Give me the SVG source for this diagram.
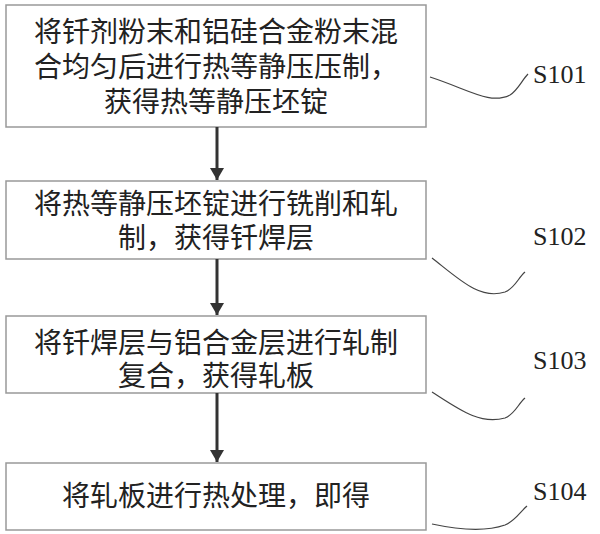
<svg xmlns="http://www.w3.org/2000/svg" width="600" height="534" viewBox="0 0 600 534">
<defs><marker id="ah" markerWidth="12" markerHeight="14" refX="12" refY="7" orient="auto" markerUnits="userSpaceOnUse"><path d="M0,0 L12,7 L0,14 z" fill="#333"/></marker></defs>
<style>
rect{fill:#fff;stroke:#999;stroke-width:1.5}
.t{font-family:"Liberation Serif","Noto Sans CJK SC",serif;font-size:28px;fill:#222;text-anchor:middle}
.s{font-family:"Liberation Serif",serif;font-size:26px;fill:#222}
.c{fill:none;stroke:#444;stroke-width:1.2}
.a{stroke:#333;stroke-width:3;marker-end:url(#ah)}
</style>
<rect width="600" height="534" style="fill:#fff;stroke:none"/>
<g id="n1"><rect x="6" y="5" width="420" height="122"/>
<text class="t" x="216" y="42">将钎剂粉末和铝硅合金粉末混</text>
<text class="t" x="216" y="77">合均匀后进行热等静压压制，</text>
<text class="t" x="216" y="112">获得热等静压坯锭</text></g>
<g id="n2"><rect x="6" y="181" width="420" height="78"/>
<text class="t" x="216" y="214">将热等静压坯锭进行铣削和轧</text>
<text class="t" x="216" y="248">制，获得钎焊层</text></g>
<g id="n3"><rect x="6" y="316" width="420" height="77"/>
<text class="t" x="216" y="353">将钎焊层与铝合金层进行轧制</text>
<text class="t" x="216" y="386">复合，获得轧板</text></g>
<g id="n4"><rect x="6" y="463" width="420" height="67"/>
<text class="t" x="216" y="506">将轧板进行热处理，即得</text></g>
<g id="labels">
<text class="s" x="533" y="83">S101</text>
<text class="s" x="533" y="245">S102</text>
<text class="s" x="533" y="369">S103</text>
<text class="s" x="533" y="500">S104</text>
</g>
<g id="connectors">
<line class="a" x1="217" y1="127" x2="217" y2="180"/>
<line class="a" x1="217" y1="259" x2="217" y2="315"/>
<line class="a" x1="217" y1="393" x2="217" y2="462"/>
<path class="c" d="M430,77 C470,90 490,105 510,95 C518,90 522,80 528,74"/>
<path class="c" d="M432,258 C460,280 480,300 505,292 C515,288 518,278 525,272"/>
<path class="c" d="M432,392 C460,410 480,425 505,418 C515,414 518,404 525,398"/>
<path class="c" d="M432,524 C460,530 485,532 505,525 C515,521 520,512 527,506"/>
</g>
</svg>
